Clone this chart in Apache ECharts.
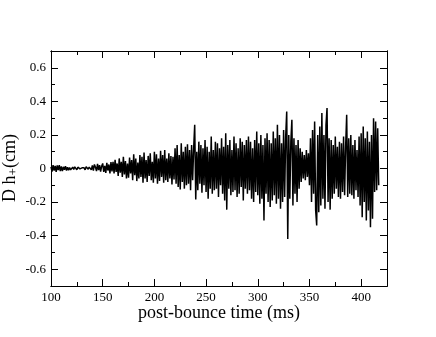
<!DOCTYPE html>
<html>
<head>
<meta charset="utf-8">
<script src="https://cdn.jsdelivr.net/npm/echarts@6/dist/echarts.min.js"></script>
<style>
  html, body { margin: 0; padding: 0; background: #fff; }
  #chart { width: 436px; height: 337px; }
</style>
</head>
<body>
<div id="chart"></div>
<script>
// post-bounce time of the first sample and the sample step (ms)
const tStart = 100;
const tStep = 1;

// strain amplitude D h+ (cm), one value per ms
const strain = [
  0.010, -0.018, 0.020, -0.012, 0.016, -0.020, 0.018, -0.010, 0.020, -0.016,
  0.012, -0.016, 0.010, -0.008, 0.014, -0.012, 0.008, -0.010, 0.006, -0.008,
  0.000, 0.008, -0.006, 0.010, 0.002, -0.008, 0.008, 0.012, -0.002, -0.008,
  0.004, 0.012, 0.004, -0.008, 0.010, 0.014, -0.004, 0.008, 0.016, -0.008,
  0.018, -0.012, 0.024, 0.008, -0.016, 0.028, -0.010, 0.020, -0.018, 0.014,
  0.030, -0.020, 0.016, -0.026, 0.034, -0.012, 0.024, -0.030, 0.038, -0.018,
  0.040, -0.030, 0.052, -0.020, 0.030, -0.045, 0.060, -0.025, 0.040, -0.050,
  0.070, -0.035, 0.045, -0.060, 0.030, -0.055, 0.065, -0.030, 0.050, -0.070,
  0.085, -0.040, 0.060, -0.075, 0.035, -0.060, 0.080, -0.050, 0.070, -0.085,
  0.095, -0.060, 0.050, -0.080, 0.075, -0.045, 0.090, -0.070, 0.040, -0.085,
  0.100, -0.060, 0.085, -0.090, 0.060, -0.075, 0.105, -0.050, 0.080, -0.085,
  0.110, -0.070, 0.060, -0.080, 0.090, -0.060, 0.075, -0.095, 0.070, -0.065,
  0.120, -0.090, 0.140, -0.110, 0.080, -0.125, 0.150, -0.080, 0.100, -0.120,
  0.130, -0.100, 0.145, -0.090, 0.110, -0.130, 0.140, -0.070, 0.120, 0.260,
  -0.185, 0.100, -0.130, 0.160, -0.090, 0.140, -0.145, 0.120, -0.100, 0.170,
  -0.140, 0.130, -0.180, 0.100, -0.120, 0.190, -0.150, 0.110, -0.130, 0.160,
  -0.120, 0.150, -0.170, 0.120, -0.100, 0.180, -0.150, 0.130, -0.190, 0.210,
  -0.245, 0.140, -0.120, 0.170, -0.160, 0.110, -0.140, 0.190, -0.130, 0.150,
  -0.170, 0.120, -0.150, 0.180, -0.110, 0.160, -0.190, 0.140, -0.120, 0.170,
  -0.150, 0.190, -0.130, 0.160, -0.180, 0.120, -0.200, 0.170, -0.140, 0.220,
  -0.160, 0.150, -0.210, 0.200, -0.180, 0.140, -0.310, 0.180, -0.150, 0.210,
  -0.200, 0.170, -0.230, 0.150, -0.190, 0.220, -0.160, 0.180, -0.210, 0.260,
  -0.180, 0.200, -0.240, 0.150, -0.200, 0.230, -0.170, 0.190, 0.340, -0.420,
  0.200, -0.180, 0.160, 0.290, -0.220, 0.180, -0.150, 0.140, -0.200, 0.170,
  -0.120, 0.120, -0.080, 0.100, -0.060, 0.080, -0.070, 0.110, -0.050, 0.090,
  -0.100, 0.180, -0.200, 0.230, -0.150, 0.280, -0.250, -0.340, 0.200, -0.260,
  0.250, -0.220, 0.330, -0.180, 0.200, -0.240, 0.260, 0.360, -0.200, 0.180,
  -0.245, 0.170, -0.180, 0.140, -0.150, 0.190, -0.120, 0.130, -0.170, 0.160,
  -0.180, 0.150, -0.140, 0.190, -0.160, 0.130, 0.320, -0.170, 0.180, -0.150,
  0.200, -0.160, 0.140, -0.180, 0.170, -0.130, 0.110, -0.170, 0.190, -0.220,
  0.210, -0.290, 0.250, -0.200, 0.180, -0.310, 0.220, -0.250, 0.160, -0.350,
  0.200, -0.300, 0.300, -0.140, 0.280, -0.130, 0.240, -0.100
];

// axis ticks
const xMajor = [100, 150, 200, 250, 300, 350, 400];
const xMinor = [125, 175, 225, 275, 325, 375];
const yMajor = [-0.6, -0.4, -0.2, 0, 0.2, 0.4, 0.6];
const yMinor = [-0.5, -0.3, -0.1, 0.1, 0.3, 0.5];

const font = 'Liberation Serif';
const black = '#000';

const points = strain.map((v, i) => [tStart + i * tStep, v]);

function xAx(pos, ticks, len, labels) {
  return {
    type: 'value', position: pos, min: 100, max: 425,
    axisLine: { show: true, onZero: false, lineStyle: { color: black, width: 1 } },
    axisTick: { show: true, inside: true, length: len, customValues: ticks, lineStyle: { color: black } },
    axisLabel: labels ? {
      show: true, customValues: ticks, margin: 5,
      color: black, fontFamily: font, fontSize: 13
    } : { show: false },
    splitLine: { show: false }
  };
}

function yAx(pos, ticks, len, labels) {
  return {
    type: 'value', position: pos, min: -0.7, max: 0.7,
    axisLine: { show: true, onZero: false, lineStyle: { color: black, width: 1 } },
    axisTick: { show: true, inside: true, length: len, customValues: ticks, lineStyle: { color: black } },
    axisLabel: labels ? {
      show: true, customValues: ticks, margin: 5,
      color: black, fontFamily: font, fontSize: 13,
      formatter: v => (Math.abs(v) < 1e-9 ? '0' : v.toFixed(1))
    } : { show: false },
    splitLine: { show: false }
  };
}

const bottom = xAx('bottom', xMajor, 7, true);
bottom.name = 'post-bounce time (ms)';
bottom.nameLocation = 'middle';
bottom.nameGap = 18;
bottom.nameMoveOverlap = false;
bottom.nameTextStyle = { color: black, fontFamily: font, fontSize: 18 };

const option = {
  animation: false,
  backgroundColor: '#fff',
  grid: { left: 51, right: 49, top: 51, bottom: 51, containLabel: false, outerBoundsMode: 'none' },
  xAxis: [
    bottom,
    xAx('bottom', xMinor, 4, false),
    xAx('top', xMajor, 7, false),
    xAx('top', xMinor, 4, false)
  ],
  yAxis: [
    yAx('left', yMajor, 7, true),
    yAx('left', yMinor, 4, false),
    yAx('right', yMajor, 7, false),
    yAx('right', yMinor, 4, false)
  ],
  // y axis title, rotated, with a subscript plus sign
  graphic: [{
    type: 'text',
    x: 10,
    y: 168,
    rotation: Math.PI / 2,
    style: {
      text: '{b|D h}{sub|+}{b|(cm)}',
      align: 'center',
      verticalAlign: 'middle',
      fill: black,
      rich: {
        b: { fontFamily: font, fontSize: 18, fill: black, verticalAlign: 'top', height: 24 },
        sub: { fontFamily: font, fontSize: 13, fill: black, verticalAlign: 'top', padding: [9, 0, 0, 0] }
      }
    }
  }],
  series: [{
    type: 'line',
    data: points,
    xAxisIndex: 0,
    yAxisIndex: 0,
    showSymbol: false,
    symbol: 'none',
    lineStyle: { color: black, width: 1.5 }
  }]
};

const myChart = echarts.init(document.getElementById('chart'));
myChart.setOption(option);
</script>
</body>
</html>
